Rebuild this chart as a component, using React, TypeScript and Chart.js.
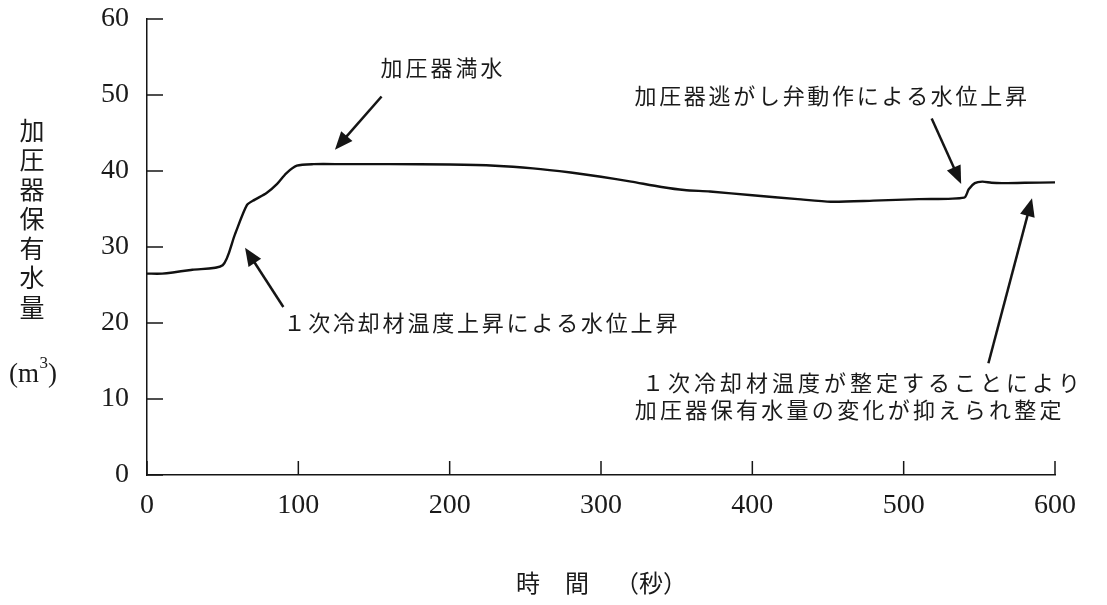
import { useEffect, useRef } from "react";
import { Chart, registerables } from "chart.js";

Chart.register(...registerables);

// Time (s)
const timeSeconds = [0, 10, 30, 50, 58, 66, 71, 79, 86, 92, 99, 110, 130, 160, 200, 230, 255, 280, 300, 320, 340, 355, 372, 400, 430, 452, 480, 510, 540, 543, 547, 552, 558, 565, 580, 600];
// Pressurizer water inventory (m3)
const pressurizerWater = [26.5, 26.5, 27.0, 27.6, 31.6, 35.5, 36.2, 37.1, 38.3, 39.7, 40.7, 40.9, 40.9, 40.9, 40.85, 40.7, 40.35, 39.8, 39.25, 38.6, 37.9, 37.5, 37.3, 36.8, 36.3, 35.96, 36.1, 36.3, 36.5, 37.6, 38.4, 38.6, 38.45, 38.4, 38.45, 38.5];

const xTickValues = [0, 100, 200, 300, 400, 500, 600];
const yTickValues = [0, 10, 20, 30, 40, 50, 60];

const annotationTexts = [
  "加圧器満水",
  "１次冷却材温度上昇による水位上昇",
  "加圧器逃がし弁動作による水位上昇",
  "１次冷却材温度が整定することにより",
  "加圧器保有水量の変化が抑えられ整定",
];
const yTitleChars = ["加", "圧", "器", "保", "有", "水", "量"];
const xTitleParts = ["時", "間", "（秒）"];

const overlayPlugin = {
  id: "overlay",
  afterDraw(chart: any) {
    const { ctx, chartArea } = chart;
    const xs = chart.scales.x;
    const ys = chart.scales.y;
    const px = (v: number) => xs.getPixelForValue(v);
    const py = (v: number) => ys.getPixelForValue(v);
    ctx.save();
    ctx.strokeStyle = "#151515";
    ctx.fillStyle = "#151515";
    ctx.lineWidth = 1.5;
    // inside tick marks
    yTickValues.forEach((v) => {
      const yy = py(v);
      ctx.beginPath();
      ctx.moveTo(chartArea.left, yy);
      ctx.lineTo(chartArea.left + 16, yy);
      ctx.stroke();
    });
    xTickValues.forEach((v) => {
      const xx = px(v);
      ctx.beginPath();
      ctx.moveTo(xx, chartArea.bottom);
      ctx.lineTo(xx, chartArea.bottom - 14);
      ctx.stroke();
    });

    // arrows (tail -> tip) in data coordinates
    const arrows = [
      [155, 49.8, 124.2, 42.8],
      [90.1, 22.1, 64.8, 29.9],
      [518.5, 46.9, 538, 38.3],
      [556, 14.7, 584.8, 36.4],
    ];
    ctx.lineWidth = 2.5;
    arrows.forEach(([x1, y1, x2, y2]) => {
      const ax = px(x1), ay = py(y1), bx = px(x2), by = py(y2);
      const ang = Math.atan2(by - ay, bx - ax);
      const headLen = 18, headHalf = 7.5;
      const baseX = bx - headLen * Math.cos(ang);
      const baseY = by - headLen * Math.sin(ang);
      ctx.beginPath();
      ctx.moveTo(ax, ay);
      ctx.lineTo(baseX + 2 * Math.cos(ang), baseY + 2 * Math.sin(ang));
      ctx.stroke();
      ctx.beginPath();
      ctx.moveTo(bx, by);
      ctx.lineTo(baseX - headHalf * Math.sin(ang), baseY + headHalf * Math.cos(ang));
      ctx.lineTo(baseX + headHalf * Math.sin(ang), baseY - headHalf * Math.cos(ang));
      ctx.closePath();
      ctx.fill();
    });

    // annotation texts: [index, left x (data), center y (data), pitch px]
    const textLayout = [
      [0, 153.3, 53.55, 25],
      [1, 89.2, 20.1, 24.8],
      [2, 321.2, 49.9, 24.7],
      [3, 325.8, 12.2, 26],
      [4, 321.2, 8.55, 25.3],
    ];
    ctx.font = "22px 'Noto Sans CJK JP'";
    ctx.textAlign = "center";
    ctx.textBaseline = "middle";
    ctx.fillStyle = "#1a1a1a";
    textLayout.forEach(([idx, lx, cy, pitch]) => {
      const s = Array.from(annotationTexts[idx]);
      const left = px(lx);
      const yy = py(cy);
      s.forEach((ch, i) => ctx.fillText(ch, left + pitch * (i + 0.5), yy));
    });

    // y-axis title (vertical)
    ctx.font = "25px 'Noto Sans CJK JP'";
    yTitleChars.forEach((ch, i) => ctx.fillText(ch, 32, 130 + i * 29.5));
    ctx.textAlign = "left";
    ctx.textBaseline = "alphabetic";
    ctx.font = "27px 'Liberation Serif'";
    ctx.fillText("(m", 9, 382);
    const w1 = ctx.measureText("(m").width;
    ctx.font = "17px 'Liberation Serif'";
    ctx.fillText("3", 9 + w1 + 0.5, 368);
    ctx.font = "27px 'Liberation Serif'";
    ctx.fillText(")", 9 + w1 + 9, 382);

    // x-axis title
    ctx.font = "24px 'Noto Sans CJK JP'";
    ctx.textAlign = "center";
    ctx.textBaseline = "middle";
    ctx.fillText(xTitleParts[0], 528, 583);
    ctx.fillText(xTitleParts[1], 577, 583);
    ctx.fillText(xTitleParts[2], 651, 583);
    ctx.restore();
  },
};

export default function App() {
  const canvasRef = useRef<HTMLCanvasElement | null>(null);

  useEffect(() => {
    const canvas = canvasRef.current;
    if (!canvas) return;
    const chart = new Chart(canvas, {
      type: "line",
      data: {
        datasets: [
          {
            data: timeSeconds.map((t, i) => ({ x: t, y: pressurizerWater[i] })),
            borderColor: "#111",
            borderWidth: 2.4,
            pointRadius: 0,
            tension: 0.25,
            fill: false,
          },
        ],
      },
      options: {
        responsive: false,
        animation: false,
        devicePixelRatio: 1,
        layout: { padding: { left: 0, top: 19, right: 52, bottom: 0 } },
        plugins: { legend: { display: false }, tooltip: { enabled: false }, title: { display: false } },
        scales: {
          x: {
            type: "linear",
            min: 0,
            max: 600,
            afterBuildTicks: (scale: any) => {
              scale.ticks = xTickValues.map((v) => ({ value: v }));
            },
            afterFit: (scale: any) => {
              scale.height = 130;
              scale.paddingLeft = 0;
              scale.paddingRight = 0;
            },
            grid: { display: false, drawTicks: false },
            border: { display: true, color: "#151515", width: 1.5 },
            ticks: {
              padding: 14,
              color: "#1a1a1a",
              font: { family: "'Liberation Serif'", size: 28 },
              maxRotation: 0,
              autoSkip: false,
            },
          },
          y: {
            type: "linear",
            min: 0,
            max: 60,
            afterBuildTicks: (scale: any) => {
              scale.ticks = yTickValues.map((v) => ({ value: v }));
            },
            afterFit: (scale: any) => {
              scale.width = 147;
              scale.paddingTop = 0;
              scale.paddingBottom = 0;
            },
            grid: { display: false, drawTicks: false },
            border: { display: true, color: "#151515", width: 1.5 },
            ticks: {
              padding: 18,
              color: "#1a1a1a",
              font: { family: "'Liberation Serif'", size: 28 },
              autoSkip: false,
            },
          },
        },
      },
      plugins: [overlayPlugin],
    } as any);
    return () => chart.destroy();
  }, []);

  return (
    <div style={{ position: "absolute", left: 0, top: 0, width: 1107, height: 605, background: "#fff" }}>
      <canvas ref={canvasRef} width={1107} height={605} style={{ display: "block" }} />
    </div>
  );
}
